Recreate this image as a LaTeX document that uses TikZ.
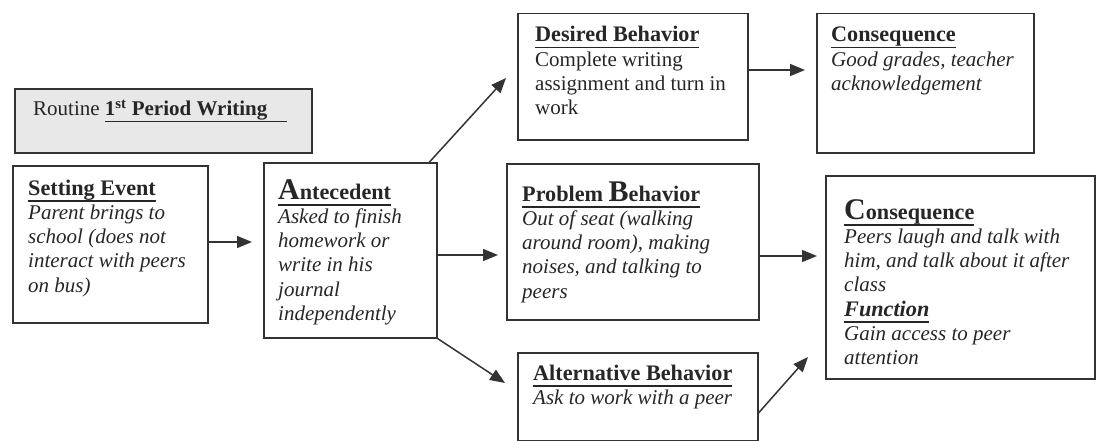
\documentclass[tikz,border=0pt]{standalone}
\usepackage{fontspec}
\setmainfont{Liberation Serif}
\usetikzlibrary{arrows.meta}
\definecolor{ink}{HTML}{262626}
\definecolor{frame}{HTML}{333333}
\definecolor{panel}{HTML}{E8E8E8}
% heading underline: a rule drawn under the boxed text
\newcommand\undl[1]{\leavevmode\setbox0\hbox{#1}\rlap{\rule[-6.5pt]{\wd0}{1.8pt}}\box0}
% box heading: bold, a little larger than the body, underlined
\newcommand\hd[1]{\undl{\fontsize{22.2}{24.3}\selectfont\bfseries #1}}
% enlarged initial letter of a heading
\newcommand\capL[1]{{\fontsize{30}{30}\selectfont #1}}
\begin{document}
\begin{tikzpicture}[x=1pt,y=-1pt,
  box/.style={draw=frame, line width=1.5pt, inner sep=0pt, anchor=north west},
  txt/.style={anchor=base west, inner sep=0pt, text=ink,
              font=\fontsize{21}{24.3}\selectfont},
  arr/.style={draw=frame, line width=1.5pt, -{Triangle[length=15pt,width=12pt]}},
  ]
\useasboundingbox (0,0) rectangle (1097,441);

% frames
\node[box, fill=panel, line width=2pt, minimum width=297pt, minimum height=64pt] (rt) at (14,88) {};
\node[box, minimum width=195pt, minimum height=157pt] (se)   at (12,165) {};
\node[box, minimum width=173pt, minimum height=175pt] (ant)  at (263,162) {};
\node[box, minimum width=230pt, minimum height=126pt] (des)  at (517,13) {};
\node[box, minimum width=217pt, minimum height=139pt] (con1) at (816,13) {};
\node[box, minimum width=252pt, minimum height=156pt] (prob) at (506,163) {};
\node[box, minimum width=269pt, minimum height=203pt] (con2) at (825,175) {};
\node[box, minimum width=240pt, minimum height=88pt]  (alt)  at (517,352) {};

% texts
\node[txt] (rt-t) at (33,116) {Routine \undl{\textbf{1\textsuperscript{st} Period Writing}\hspace{20pt}}};
\node[txt] (se-t) at (28,195) {\parbox[t]{175pt}{\hd{Setting Event}\\
  \itshape Parent brings to\\ school (does not\\ interact with peers\\ on bus)}};
\node[txt] (ant-t) at (278,199) {\parbox[t]{155pt}{\hd{\capL{A}ntecedent}\\
  \itshape Asked to finish\\ homework or\\ write in his\\ journal\\ independently}};
\node[txt] (des-t) at (535,42) {\parbox[t]{210pt}{\hd{Desired Behavior}\\
  Complete writing\\ assignment and turn in\\ work}};
\node[txt] (con1-t) at (831,42) {\parbox[t]{200pt}{\hd{Consequence}\\
  \itshape Good grades, teacher\\ acknowledgement}};
\node[txt] (prob-t) at (522,201) {\parbox[t]{235pt}{\hd{Problem \capL{B}ehavior}\\
  \itshape Out of seat (walking\\ around room), making\\ noises, and talking to\\ peers}};
\node[txt] (con2-t) at (844,219) {\parbox[t]{250pt}{\hd{\capL{C}onsequence}\\
  \itshape Peers laugh and talk with\\ him, and talk about it after\\ class\\
  \hd{Function}\\ Gain access to peer\\ attention}};
\node[txt] (alt-t) at (533,380) {\parbox[t]{225pt}{\hd{Alternative Behavior}\\
  \itshape Ask to work with a peer}};

% arrow tips
\coordinate (t1) at (252,242);
\coordinate (t2) at (506,78);
\coordinate (t3) at (498,255);
\coordinate (t4) at (505,383);
\coordinate (t5) at (805,70);
\coordinate (t6) at (817,256);
\coordinate (t7) at (808,357);

% connectors
\draw[arr] (se.east |- t1) -- (t1);
\draw[arr] ([xshift=-8pt]ant.north east) -- (t2);
\draw[arr] (ant.east |- t3) -- (t3);
\draw[arr] (ant.south east) -- (t4);
\draw[arr] (des.east |- t5) -- (t5);
\draw[arr] (prob.east |- t6) -- (t6);
\draw[arr] (alt.east |- 0,413) -- (t7);
\end{tikzpicture}
\end{document}
